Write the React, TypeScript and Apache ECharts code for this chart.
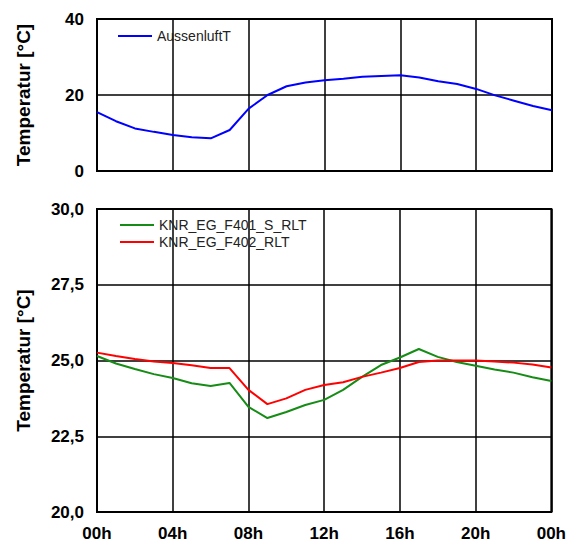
import React, { useEffect, useRef } from "react";
import * as echarts from "echarts";

const hours = [0,1,2,3,4,5,6,7,8,9,10,11,12,13,14,15,16,17,18,19,20,21,22,23,24];
const aussenluftT = [15.5,13.1,11.2,10.3,9.5,8.9,8.6,10.8,16.4,20.0,22.3,23.3,23.9,24.3,24.8,25.0,25.2,24.6,23.6,22.9,21.6,19.9,18.5,17.1,16.0];
const f401 = [25.15,24.9,24.72,24.55,24.42,24.25,24.16,24.26,23.47,23.1,23.3,23.53,23.7,24.03,24.46,24.85,25.1,25.38,25.12,24.95,24.83,24.7,24.6,24.45,24.32];
const f402 = [25.26,25.15,25.05,24.97,24.92,24.84,24.75,24.75,24.03,23.56,23.75,24.03,24.19,24.28,24.46,24.6,24.75,24.95,25.0,25.0,25.0,24.97,24.93,24.87,24.77];
const seriesNames = ["AussenluftT", "KNR_EG_F401_S_RLT", "KNR_EG_F402_RLT"];
const colors = ["#0000ff", "#168c16", "#ff0000"];

const pair = (arr: number[]) => hours.map((h, i) => [h, arr[i]]);

export default function App() {
  const ref = useRef<HTMLDivElement>(null);
  useEffect(() => {
    if (!ref.current) return;
    const chart = echarts.init(ref.current, null, { renderer: "svg" });
    const ff = "Liberation Sans, Arial, sans-serif";
    const labelFont = { fontFamily: ff, fontWeight: "bold" as const, fontSize: 17, color: "#000" };
    const nameStyle = { fontFamily: ff, fontWeight: "bold" as const, fontSize: 19, color: "#000" };
    const legendText = { fontFamily: ff, fontSize: 14, color: "#222" };
    const axisLine = { show: false };
    const split = { show: true, lineStyle: { color: "#000", width: 1.5 } };
    chart.setOption({
      animation: false,
      backgroundColor: "#fff",
      grid: [
        { left: 97, top: 19, width: 455, height: 152, show: true, borderColor: "#000", borderWidth: 2, backgroundColor: "transparent" },
        { left: 97, top: 209, width: 455, height: 303, show: true, borderColor: "#000", borderWidth: 2, backgroundColor: "transparent" },
      ],
      legend: [
        {
          data: [seriesNames[0]], left: 113, top: 24, orient: "vertical",
          icon: "rect", itemWidth: 34, itemHeight: 2, itemGap: 4,
          textStyle: legendText,
        },
        {
          data: [seriesNames[1], seriesNames[2]], left: 115, top: 213, orient: "vertical",
          icon: "rect", itemWidth: 34, itemHeight: 2, itemGap: 3,
          textStyle: legendText,
        },
      ],
      xAxis: [
        {
          gridIndex: 0, type: "value", min: 0, max: 24, interval: 4,
          axisLine, axisTick: { show: false }, axisLabel: { show: false }, splitLine: split,
        },
        {
          gridIndex: 1, type: "value", min: 0, max: 24, interval: 4,
          axisLine, axisTick: { show: false }, splitLine: split,
          axisLabel: {
            ...labelFont, margin: 13,
            formatter: (v: number) => String(v % 24).padStart(2, "0") + "h",
          },
        },
      ],
      yAxis: [
        {
          gridIndex: 0, type: "value", min: 0, max: 40, interval: 20,
          axisLine, axisTick: { show: false }, splitLine: split,
          axisLabel: { ...labelFont, margin: 13 },
          name: "Temperatur [°C]", nameLocation: "middle", nameGap: 64,
          nameTextStyle: nameStyle,
        },
        {
          gridIndex: 1, type: "value", min: 20, max: 30, interval: 2.5,
          axisLine, axisTick: { show: false }, splitLine: split,
          axisLabel: { ...labelFont, margin: 13, formatter: (v: number) => v.toFixed(1).replace(".", ",") },
          name: "Temperatur [°C]", nameLocation: "middle", nameGap: 64,
          nameTextStyle: nameStyle,
        },
      ],
      series: [
        { name: seriesNames[0], type: "line", xAxisIndex: 0, yAxisIndex: 0, data: pair(aussenluftT), showSymbol: false, lineStyle: { width: 2, color: colors[0] }, itemStyle: { color: colors[0] } },
        { name: seriesNames[1], type: "line", xAxisIndex: 1, yAxisIndex: 1, data: pair(f401), showSymbol: false, lineStyle: { width: 2, color: colors[1] }, itemStyle: { color: colors[1] } },
        { name: seriesNames[2], type: "line", xAxisIndex: 1, yAxisIndex: 1, data: pair(f402), showSymbol: false, lineStyle: { width: 2, color: colors[2] }, itemStyle: { color: colors[2] } },
      ],
    });
    return () => chart.dispose();
  }, []);
  return <div ref={ref} style={{ position: "absolute", left: 0, top: 0, width: 569, height: 544 }} />;
}
